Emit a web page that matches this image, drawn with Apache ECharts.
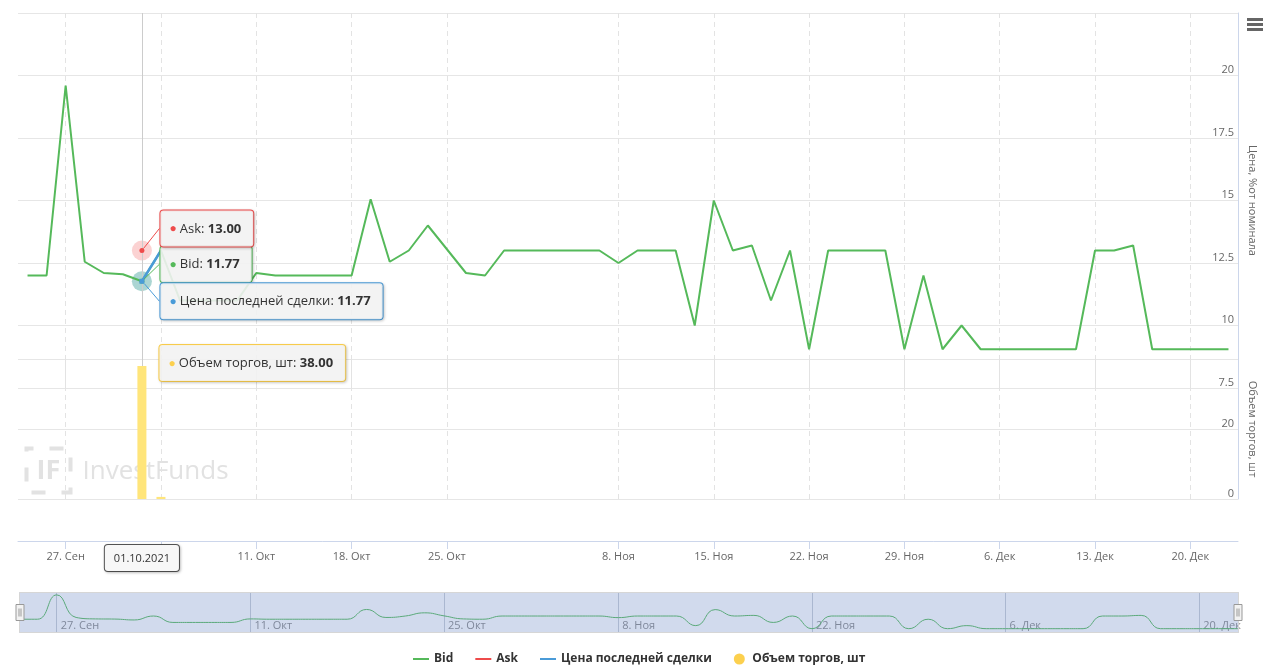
<!DOCTYPE html>
<html>
<head>
<meta charset="utf-8">
<title>Bid / Ask</title>
<script src="https://cdn.jsdelivr.net/npm/echarts@6/dist/echarts.min.js"></script>
<style>
  html, body { margin: 0; padding: 0; background: #fff; }
  #chart { width: 1265px; height: 666px; }
</style>
</head>
<body>
<div id="chart"></div>
<script>
// trading days only (ordinal axis: weekends and 4 Nov are skipped)
const dates = [
  '2021-09-23', '2021-09-24', '2021-09-27', '2021-09-28', '2021-09-29', '2021-09-30',
  '2021-10-01', '2021-10-04', '2021-10-05', '2021-10-06', '2021-10-07', '2021-10-08',
  '2021-10-11', '2021-10-12', '2021-10-13', '2021-10-14', '2021-10-15',
  '2021-10-18', '2021-10-19', '2021-10-20', '2021-10-21', '2021-10-22',
  '2021-10-25', '2021-10-26', '2021-10-27', '2021-10-28', '2021-10-29',
  '2021-11-01', '2021-11-02', '2021-11-03', '2021-11-05',
  '2021-11-08', '2021-11-09', '2021-11-10', '2021-11-11', '2021-11-12',
  '2021-11-15', '2021-11-16', '2021-11-17', '2021-11-18', '2021-11-19',
  '2021-11-22', '2021-11-23', '2021-11-24', '2021-11-25', '2021-11-26',
  '2021-11-29', '2021-11-30', '2021-12-01', '2021-12-02', '2021-12-03',
  '2021-12-06', '2021-12-07', '2021-12-08', '2021-12-09', '2021-12-10',
  '2021-12-13', '2021-12-14', '2021-12-15', '2021-12-16', '2021-12-17',
  '2021-12-20', '2021-12-21', '2021-12-22'
]

const bidValues = [
  12.0, 12.0, 19.6, 12.55, 12.1, 12.05,
  11.77, 13.0, 11.0, 11.0, 11.0, 11.0,
  12.1, 12.0, 12.0, 12.0, 12.0,
  12.0, 15.05, 12.55, 13.0, 14.0,
  13.05, 12.1, 12.0, 13.0, 13.0,
  13.0, 13.0, 13.0, 13.0,
  12.5, 13.0, 13.0, 13.0, 10.0,
  15.0, 13.0, 13.2, 11.0, 13.0,
  9.05, 13.0, 13.0, 13.0, 13.0,
  9.05, 12.0, 9.05, 10.0, 9.05,
  9.05, 9.05, 9.05, 9.05, 9.05,
  13.0, 13.0, 13.2, 9.05, 9.05,
  9.05, 9.05, 9.05
]

const askDates = ['2021-10-01']
const askValues = [13.0]

const lastDates = ['2021-10-01', '2021-10-04']
const lastValues = [11.77, 13.0]

const volumeDates = ['2021-10-01', '2021-10-04']
const volumeValues = [38, 0.6]

// tick dates shown on the main axis and in the navigator
const mainTicks = [
  '2021-09-27', '2021-10-04', '2021-10-11', '2021-10-18', '2021-10-25',
  '2021-11-08', '2021-11-15', '2021-11-22', '2021-11-29',
  '2021-12-06', '2021-12-13', '2021-12-20'
]
const navTicks = [
  '2021-09-27', '2021-10-11', '2021-10-25', '2021-11-08',
  '2021-11-22', '2021-12-06', '2021-12-20'
]

const hoverDate = '2021-10-01'

const MONTHS = ['Янв', 'Фев', 'Мар', 'Апр', 'Май', 'Июн', 'Июл', 'Авг', 'Сен', 'Окт', 'Ноя', 'Дек']
const FONT = '"Open Sans", "Noto Sans", sans-serif'
const BID_COLOR = '#55b95a'
const ASK_COLOR = '#ee4b4b'
const LAST_COLOR = '#4a9bd8'
const VOL_COLOR = '#ffe57a'
const VOL_LEGEND = '#fcd04e'

const shortLabel = (d) => {
  const [, m, dd] = d.split('-')
  return `${+dd}. ${MONTHS[m - 1]}`
}
const fullLabel = (d) => {
  const [y, m, dd] = d.split('-')
  return `${dd}.${m}.${y}`
}
const byDate = (ds, vs) => dates.map((d) => {
  const k = ds.indexOf(d)
  return k < 0 ? null : vs[k]
})
const isMainTick = (i, d) => mainTicks.includes(d)
const isNavTick = (i, d) => navTicks.includes(d)
const hoverIdx = dates.indexOf(hoverDate)

// split-tooltip look-alike boxes
function tipLabel(color, name, value) {
  return {
    show: true,
    formatter: `{dot|●} {n|${name}: }{v|${value.toFixed(2)}}`,
    backgroundColor: 'rgba(247,247,247,0.88)',
    borderColor: color,
    borderWidth: 1,
    borderRadius: 3,
    padding: [9, 12, 8, 9],
    shadowColor: 'rgba(0,0,0,0.18)',
    shadowBlur: 3,
    shadowOffsetX: 1,
    shadowOffsetY: 1,
    rich: {
      dot: { color, fontSize: 12, fontFamily: FONT, lineHeight: 19 },
      n: { color: '#333', fontSize: 13, fontFamily: FONT, lineHeight: 19 },
      v: { color: '#333', fontSize: 13, fontWeight: 'bold', fontFamily: FONT, lineHeight: 19 },
    },
  }
}

function hoverPoint(value, color, name, symbol) {
  return {
    value,
    symbol,
    symbolSize: 5,
    itemStyle: { color },
    label: Object.assign(tipLabel(color, name, value), { position: 'right', distance: 16 }),
  }
}

function halo(value, rgba) {
  return {
    silent: true,
    z: 1,
    symbol: 'circle',
    symbolSize: 20,
    label: { show: false },
    itemStyle: { color: rgba },
    data: [{ coord: [hoverDate, value] }],
  }
}

function priceLine(name, values, color, width, symbol, dy, haloColor) {
  return {
    name,
    type: 'line',
    xAxisIndex: 0,
    yAxisIndex: 0,
    symbol: 'none',
    connectNulls: false,
    data: values.map((v, i) => (i === hoverIdx ? hoverPoint(v, color, name, symbol) : v)),
    lineStyle: { color, width },
    itemStyle: { color },
    labelLayout: { dy },
    labelLine: { show: true, lineStyle: { color, width: 1 } },
    markPoint: halo(values[hoverIdx], haloColor),
  }
}

const askData = byDate(askDates, askValues)
const lastData = byDate(lastDates, lastValues)
const volumeData = byDate(volumeDates, volumeValues)

const dashedSplit = {
  show: true,
  interval: isMainTick,
  alignWithLabel: true,
  lineStyle: { color: '#e3e3e3', type: [5, 4] },
}

const crosshair = {
  show: true,
  type: 'line',
  value: hoverIdx,
  status: 'show',
  triggerTooltip: false,
  z: 1,
  lineStyle: { color: '#cccccc', width: 1, type: 'solid' },
}

const LINE_ICON = 'path://M0,0 h16 v2 h-16 z'

const chart = echarts.init(document.getElementById('chart'))

const option = {
  animation: false,
  textStyle: { fontFamily: FONT },
  axisPointer: { triggerOn: 'none' },
  grid: [
    { left: 18, right: 27, top: 13, height: 375, outerBoundsMode: 'none' },
    { left: 18, right: 27, top: 359, height: 140, outerBoundsMode: 'none' },
    { left: 18, right: 27, top: 592, height: 41, outerBoundsMode: 'none' },
  ],
  xAxis: [
    {
      gridIndex: 0,
      type: 'category',
      data: dates,
      boundaryGap: true,
      axisLine: { show: false },
      axisTick: { show: false },
      axisLabel: { show: false },
      splitLine: dashedSplit,
      axisPointer: Object.assign({}, crosshair, { label: { show: false } }),
    },
    {
      gridIndex: 1,
      type: 'category',
      data: dates,
      boundaryGap: true,
      offset: 42,
      axisLine: { show: true, onZero: false, lineStyle: { color: '#ccd6eb' } },
      axisTick: {
        show: true,
        alignWithLabel: true,
        length: 8,
        interval: isMainTick,
        lineStyle: { color: '#ccd6eb' },
      },
      axisLabel: {
        interval: isMainTick,
        formatter: shortLabel,
        color: '#666',
        fontSize: 11,
        margin: 10,
      },
      splitLine: dashedSplit,
      axisPointer: Object.assign({}, crosshair, {
        label: {
          show: true,
          formatter: (p) => fullLabel(typeof p.value === 'number' ? dates[p.value] : p.value),
          backgroundColor: '#f7f7f7',
          borderColor: '#555',
          borderWidth: 1,
          borderRadius: 3,
          color: '#333',
          fontSize: 11,
          padding: [8, 9, 7, 9],
          margin: 4,
          shadowColor: 'rgba(0,0,0,0.2)',
          shadowBlur: 3,
          shadowOffsetX: 1,
          shadowOffsetY: 1,
        },
      }),
    },
    {
      gridIndex: 2,
      type: 'category',
      data: dates,
      boundaryGap: false,
      axisLine: { show: false },
      axisTick: { show: false },
      axisLabel: {
        inside: true,
        interval: isNavTick,
        formatter: shortLabel,
        color: '#8a8a8a',
        fontSize: 11,
        align: 'left',
        margin: 2,
        padding: [0, 0, 0, 4],
      },
      splitLine: {
        show: true,
        interval: isNavTick,
        lineStyle: { color: '#c8cdd6', width: 1 },
      },
    },
  ],
  yAxis: [
    {
      gridIndex: 0,
      type: 'value',
      position: 'right',
      min: 7.5,
      max: 22.5,
      interval: 2.5,
      name: 'Цена, %от номинала',
      nameLocation: 'middle',
      nameRotate: -90,
      nameGap: 8,
      nameTextStyle: { color: '#666', fontSize: 11 },
      axisLine: { show: true, lineStyle: { color: '#ccd6eb' } },
      axisTick: { show: false },
      axisLabel: {
        inside: true,
        showMaxLabel: false,
        color: '#666',
        fontSize: 11,
        verticalAlign: 'bottom',
        margin: 4,
      },
      splitLine: { lineStyle: { color: '#e6e6e6' } },
    },
    {
      gridIndex: 1,
      type: 'value',
      position: 'right',
      min: 0,
      max: 40,
      interval: 20,
      name: 'Объем торгов, шт',
      nameLocation: 'middle',
      nameRotate: -90,
      nameGap: 8,
      nameTextStyle: { color: '#666', fontSize: 11 },
      axisLine: { show: true, lineStyle: { color: '#ccd6eb' } },
      axisTick: { show: false },
      axisLabel: {
        inside: true,
        showMaxLabel: false,
        color: '#666',
        fontSize: 11,
        verticalAlign: 'bottom',
        margin: 4,
      },
      splitLine: { lineStyle: { color: '#e6e6e6' } },
    },
    {
      gridIndex: 2,
      type: 'value',
      show: false,
      min: 7.7,
      max: 20.5,
    },
  ],
  dataZoom: [
    {
      type: 'slider',
      xAxisIndex: [0, 1],
      start: 0,
      end: 100,
      left: 18,
      right: 27,
      top: 592,
      height: 41,
      showDataShadow: false,
      showDetail: false,
      brushSelect: false,
      moveHandleSize: 0,
      backgroundColor: 'rgba(0,0,0,0)',
      borderColor: '#d6d6d6',
      fillerColor: 'rgba(102,133,194,0.3)',
      handleIcon: 'path://M0,0 h8 v16 h-8 z M3,4 v8 M5,4 v8',
      handleSize: 16,
      handleStyle: { color: '#f2f2f2', borderColor: '#999', borderWidth: 1 },
      z: 4,
    },
  ],
  legend: {
    top: 648,
    left: 408,
    itemWidth: 16,
    itemHeight: 11,
    itemGap: 22,
    symbolKeepAspect: true,
    textStyle: { fontWeight: 'bold', fontSize: 12, color: '#333', fontFamily: FONT },
    data: [
      { name: 'Bid', icon: LINE_ICON },
      { name: 'Ask', icon: LINE_ICON },
      { name: 'Цена последней сделки', icon: LINE_ICON },
      { name: 'Объем торгов, шт', icon: 'circle', itemStyle: { color: VOL_LEGEND } },
    ],
  },
  graphic: [
    {
      type: 'group',
      left: 24,
      top: 446,
      silent: true,
      z: 0,
      children: [
        {
          type: 'rect',
          shape: { x: 2, y: 2, width: 44, height: 44 },
          style: { fill: 'none', stroke: '#e2e2e2', lineWidth: 4, lineDash: [14, 16], lineDashOffset: 7 },
        },
        {
          type: 'text',
          x: 24,
          y: 25,
          style: { text: 'IF', fill: '#e2e2e2', font: 'bold 27px ' + FONT, align: 'center', verticalAlign: 'middle' },
        },
        {
          type: 'text',
          x: 58,
          y: 25,
          style: { text: 'InvestFunds', fill: '#e2e2e2', font: '26px ' + FONT, verticalAlign: 'middle' },
        },
      ],
    },
    {
      type: 'group',
      right: 2,
      top: 18,
      silent: true,
      children: [0, 5, 10].map((y) => ({
        type: 'rect',
        shape: { x: 0, y, width: 16, height: 3 },
        style: { fill: '#666' },
      })),
    },
  ],
  series: [
    priceLine('Bid', bidValues, BID_COLOR, 2, 'circle', -17, 'rgba(85,185,90,0.28)'),
    priceLine('Ask', askData, ASK_COLOR, 2, 'circle', -22, 'rgba(238,75,75,0.25)'),
    priceLine('Цена последней сделки', lastData, LAST_COLOR, 2.5, 'rect', 20, 'rgba(74,155,216,0.28)'),
    {
      name: 'Объем торгов, шт',
      type: 'bar',
      xAxisIndex: 1,
      yAxisIndex: 1,
      barWidth: 9,
      itemStyle: { color: VOL_COLOR },
      data: volumeData.map((v, i) => (i === hoverIdx
        ? { value: v, label: Object.assign(tipLabel(VOL_LEGEND, 'Объем торгов, шт', v), { position: [22, -21] }) }
        : v)),
    },
    {
      name: 'navigator',
      type: 'line',
      xAxisIndex: 2,
      yAxisIndex: 2,
      data: bidValues,
      smooth: 0.5,
      showSymbol: false,
      silent: true,
      lineStyle: { color: BID_COLOR, width: 1 },
    },
  ],
}

chart.setOption(option)
</script>
</body>
</html>
